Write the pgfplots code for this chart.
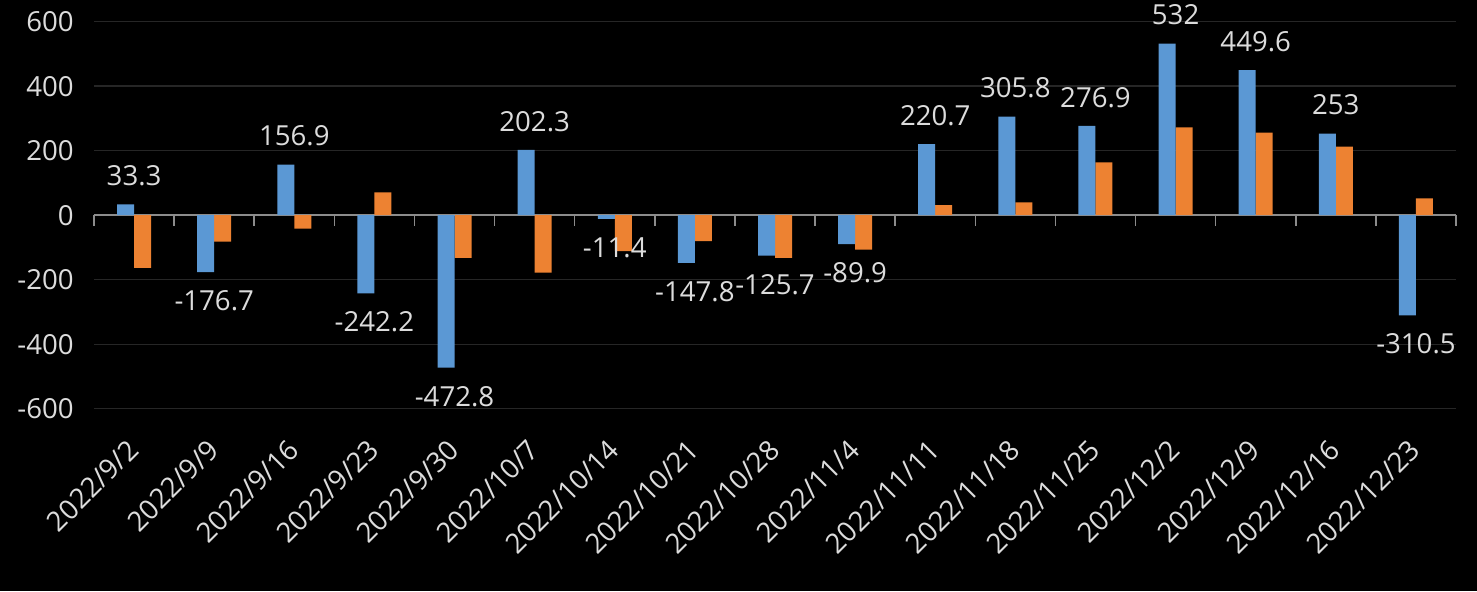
\documentclass[border=0pt]{standalone}
\usepackage{fontspec}
\setmainfont{Open Sans}
\usepackage{pgfplots}
\pgfplotsset{compat=1.18}

\definecolor{txt}{HTML}{DCDCDC}
\definecolor{gridc}{HTML}{262626}
\definecolor{zline}{HTML}{8C8C8C}
\definecolor{barBlue}{HTML}{5B98D4}
\definecolor{barOrange}{HTML}{ED8232}

\begin{document}
\fontsize{13.8}{16}\selectfont
\begin{tikzpicture}
\path[fill=black, use as bounding box] (-47pt,-91.15pt) rectangle (691.5pt,204.35pt);
\begin{axis}[
    at={(0,0)}, anchor=south west,
    scale only axis,
    width=681pt, height=193.5pt,
    xmin=-0.5, xmax=16.5,
    ymin=-600, ymax=600,
    axis x line*=middle,
    axis y line*=left,
    hide obscured x ticks=false,
    hide obscured y ticks=false,
    y axis line style={draw=none},
    x axis line style={draw=zline, line width=0.75pt},
    ytick={-600,-400,-200,0,200,400,600},
    yticklabels={-600,-400,-200,0,200,400,600},
    ymajorgrids,
    grid style={draw=gridc, line width=0.7pt},
    major tick length=0pt,
    minor tick length=5.5pt,
    tick align=outside,
    xtick={0,...,16},
    xticklabels={2022/9/2,2022/9/9,2022/9/16,2022/9/23,2022/9/30,2022/10/7,
        2022/10/14,2022/10/21,2022/10/28,2022/11/4,2022/11/11,2022/11/18,
        2022/11/25,2022/12/2,2022/12/9,2022/12/16,2022/12/23},
    minor xtick={-0.5,0.5,...,16.5},
    minor x tick style={draw=zline, line width=0.75pt},
    yticklabel style={text=txt, anchor=east, inner sep=0pt, xshift=-10pt},
    xticklabel style={text=txt, inner sep=0pt, yshift=-111pt, xshift=-4pt,
        rotate=45, anchor=north east},
    bar width=8.5pt,
    blue bars/.style={ybar, bar shift=-4.25pt, draw=none, fill=barBlue,
        point meta=explicit symbolic,
        nodes near coords={\pgfplotspointmeta},
        every node near coord/.append style={text=txt, inner xsep=0pt, inner ysep=9pt}},
]
% orange series (no labels), drawn first so the blue labels sit on top
\addplot[ybar, bar shift=4.25pt, draw=none, fill=barOrange] coordinates {
    (0,-163) (1,-82) (2,-42) (3,71) (4,-132) (5,-178) (6,-111) (7,-80)
    (8,-132) (9,-107) (10,31) (11,40) (12,164) (13,272) (14,256) (15,213) (16,52)
};
% blue series, positive weeks (labels above)
\addplot[blue bars, every node near coord/.append style={anchor=south}]
coordinates {
    (0,33.3) [33.3] (2,156.9) [156.9] (5,202.3) [202.3] (10,220.7) [220.7]
    (11,305.8) [305.8] (12,276.9) [276.9] (13,532) [532] (14,449.6) [449.6]
    (15,253) [253]
};
% blue series, negative weeks (labels below)
\addplot[blue bars, every node near coord/.append style={anchor=north}]
coordinates {
    (1,-176.7) [-176.7] (3,-242.2) [-242.2] (4,-472.8) [-472.8] (6,-11.4) [-11.4]
    (7,-147.8) [-147.8] (8,-125.7) [-125.7] (9,-89.9) [-89.9] (16,-310.5) [-310.5]
};
\end{axis}
\end{tikzpicture}
\end{document}
